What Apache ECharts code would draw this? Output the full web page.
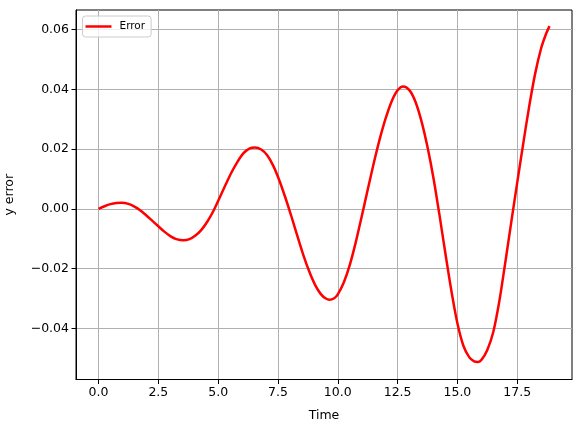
<!DOCTYPE html>
<html><head><meta charset="utf-8">
<script src="https://cdn.jsdelivr.net/npm/echarts@6/dist/echarts.min.js"></script>
<style>html,body{margin:0;padding:0;background:#fff}#c{width:586px;height:426px}</style>
</head><body><div id="c"></div>
<script>
const time = [0,0.25,0.5,0.75,0.97,1.25,1.5,1.75,2.0,2.25,2.5,2.75,3.0,3.25,3.55,3.8,4.05,4.3,4.55,4.8,5.05,5.3,5.55,5.8,6.05,6.3,6.54,6.8,7.05,7.3,7.55,7.8,8.05,8.3,8.55,8.8,9.05,9.3,9.5,9.65,9.85,10.0,10.25,10.5,10.75,11.0,11.25,11.5,11.75,12.0,12.25,12.5,12.73,13.0,13.25,13.5,13.75,14.0,14.25,14.5,14.75,15.0,15.25,15.5,15.7,15.87,16.0,16.25,16.5,16.75,17.0,17.25,17.5,17.75,18.0,18.25,18.5,18.7,18.85];
const yError = [0,0.0009,0.0016,0.0020,0.0021,0.0017,0.0008,-0.0005,-0.0022,-0.0040,-0.0058,-0.0076,-0.0091,-0.0101,-0.0105,-0.0101,-0.0089,-0.0070,-0.0042,-0.0007,0.0036,0.0079,0.0121,0.0157,0.0186,0.0202,0.0206,0.0199,0.0180,0.0145,0.0097,0.0040,-0.0022,-0.0088,-0.0152,-0.0208,-0.0254,-0.0286,-0.0300,-0.0304,-0.0299,-0.0286,-0.0246,-0.0188,-0.0112,-0.0025,0.0064,0.0152,0.0233,0.0303,0.0360,0.0397,0.0410,0.0397,0.0358,0.0293,0.0207,0.0103,-0.0020,-0.0150,-0.0275,-0.0383,-0.0458,-0.0497,-0.0510,-0.0512,-0.0506,-0.0472,-0.0412,-0.0310,-0.0180,-0.0045,0.0088,0.0218,0.0343,0.0453,0.0538,0.0585,0.0612];
const xTicks = [0,2.5,5,7.5,10,12.5,15,17.5];
const yTicks = [-0.04,-0.02,0,0.02,0.04,0.06];
const seriesName = 'Error';
const xLabel = 'Time';
const yLabel = 'y error';

const FONT = 'DejaVu Sans';
const chart = echarts.init(document.getElementById('c'), null, {renderer:'canvas'});
const pts = time.map((t,i)=>[t,yError[i]]);
chart.setOption({
  animation:false,
  backgroundColor:'#fff',
  grid:{left:76,top:10,right:14,bottom:46.5,containLabel:false,outerBoundsMode:'none',
    show:true,borderColor:'#000',borderWidth:1,backgroundColor:'transparent'},
  legend:{
    left:82.5, top:16, orient:'vertical',
    padding:[5,6,5,3],
    backgroundColor:'rgba(255,255,255,0.8)',
    borderColor:'#cccccc', borderWidth:1, borderRadius:3,
    itemWidth:26, itemHeight:14,
    textStyle:{fontFamily:FONT,fontSize:10.5,color:'#000',padding:[0,0,0,3]},
    data:[{name:seriesName, icon:'path://M0,0L26,0L26,2.5L0,2.5Z', itemStyle:{color:'#ff0000'}}]
  },
  xAxis:{
    type:'value', min:-0.9425, max:19.79,
    name:xLabel, nameLocation:'middle', nameGap:30,
    nameTextStyle:{fontFamily:FONT,fontSize:12.5,color:'#000'},
    axisLine:{show:true,onZero:false,lineStyle:{color:'#000',width:1}},
    axisTick:{show:true,inside:false,length:4.5,customValues:xTicks,lineStyle:{color:'#000',width:1}},
    axisLabel:{customValues:xTicks,margin:7,fontFamily:FONT,fontSize:12.5,color:'#000',formatter:v=>v.toFixed(1)},
    splitLine:{show:true,lineStyle:{color:'#b0b0b0',width:1}}
  },
  yAxis:{
    type:'value', min:-0.0571, max:0.0666,
    name:yLabel, nameLocation:'middle', nameGap:60, nameRotate:90,
    nameTextStyle:{fontFamily:FONT,fontSize:12.5,color:'#000'},
    axisLine:{show:true,onZero:false,lineStyle:{color:'#000',width:1}},
    axisTick:{show:true,inside:false,length:4.5,customValues:yTicks,lineStyle:{color:'#000',width:1}},
    axisLabel:{customValues:yTicks,margin:7,fontFamily:FONT,fontSize:12.5,color:'#000',
      formatter:v=>(v<0?'\u2212':'')+Math.abs(v).toFixed(2)},
    splitLine:{show:true,lineStyle:{color:'#b0b0b0',width:1}}
  },
  series:[{
    name:seriesName, type:'line', data:pts, smooth:0.3, symbol:'none',
    lineStyle:{color:'#ff0000',width:2.5}, itemStyle:{color:'#ff0000'}
  }]
});
</script>
</body></html>
